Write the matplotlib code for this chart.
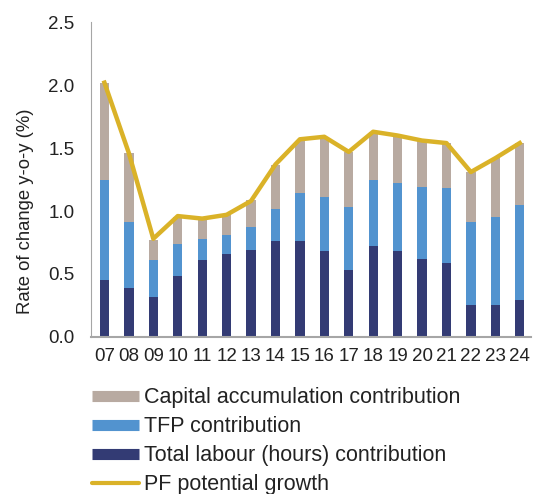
import matplotlib
matplotlib.use("Agg")
from matplotlib import pyplot as plt
from matplotlib.lines import Line2D
import numpy as np

plt.rcParams['font.family'] = ['Liberation Sans', 'DejaVu Sans']

years = ['07', '08', '09', '10', '11', '12', '13', '14', '15', '16', '17',
         '18', '19', '20', '21', '22', '23', '24']
labour = [0.45, 0.39, 0.32, 0.48, 0.61, 0.66, 0.69, 0.76, 0.76, 0.68, 0.53,
          0.72, 0.68, 0.62, 0.585, 0.25, 0.25, 0.29]
tfp = [0.80, 0.525, 0.29, 0.26, 0.17, 0.15, 0.185, 0.26, 0.38, 0.43, 0.50,
       0.53, 0.54, 0.57, 0.595, 0.665, 0.705, 0.76]
capital = [0.77, 0.545, 0.16, 0.215, 0.15, 0.16, 0.215, 0.345, 0.42, 0.48, 0.44,
           0.38, 0.375, 0.37, 0.36, 0.395, 0.465, 0.49]
potential = [2.02, 1.46, 0.78, 0.96, 0.94, 0.97, 1.08, 1.37, 1.57, 1.59, 1.47,
             1.63, 1.60, 1.56, 1.54, 1.31, 1.42, 1.54]

c_cap = '#b8aaa1'
c_tfp = '#5293cf'
c_lab = '#333b74'
c_pf = '#dab228'

fig = plt.figure(figsize=(5.33, 4.94), dpi=100)
ax = fig.add_axes([91 / 533, 0.318, 0.825, 0.637])

x = np.arange(len(years))
w = 0.38
lab = np.array(labour)
tf = np.array(tfp)
ax.bar(x, labour, w, color=c_lab)
ax.bar(x, tfp, w, bottom=lab, color=c_tfp)
ax.bar(x, capital, w, bottom=lab + tf, color=c_cap)
ax.plot(x, potential, color=c_pf, lw=3.2, zorder=5)

ax.set_ylim(0, 2.5)
ax.set_xlim(-0.55, 17.45)
ax.set_yticks([0, 0.5, 1.0, 1.5, 2.0, 2.5])
ax.set_yticklabels(['0.0', '0.5', '1.0', '1.5', '2.0', '2.5'])
ax.set_xticks(x)
ax.set_xticklabels(years)
ax.tick_params(length=0, labelsize=13.5, colors='#222222')
ax.tick_params(axis='y', pad=12)
ax.tick_params(axis='x', pad=8)
ax.set_ylabel('Rate of change y-o-y (%)', fontsize=13.3, color='#222222')
ax.yaxis.set_label_coords(-0.13, 0.40)

for s in ['top', 'right']:
    ax.spines[s].set_visible(False)
ax.spines['left'].set_color('#a6a6a6')
ax.spines['bottom'].set_color('#a6a6a6')
ax.spines['bottom'].set_linewidth(1.5)

hh = [Line2D([0], [0], color=c_cap, lw=8, solid_capstyle='butt'),
      Line2D([0], [0], color=c_tfp, lw=8, solid_capstyle='butt'),
      Line2D([0], [0], color=c_lab, lw=8, solid_capstyle='butt'),
      Line2D([0], [0], color=c_pf, lw=3, solid_capstyle='round')]
ll = ['Capital accumulation contribution', 'TFP contribution',
      'Total labour (hours) contribution', 'PF potential growth']
fig.legend(hh, ll, loc='upper left', bbox_to_anchor=(0.172, 0.216), frameon=False,
           fontsize=15.5, handlelength=2.2, handletextpad=0.25, labelspacing=0.37,
           borderaxespad=0, borderpad=0, labelcolor='#222222')

fig.savefig('out.png', dpi=100)
